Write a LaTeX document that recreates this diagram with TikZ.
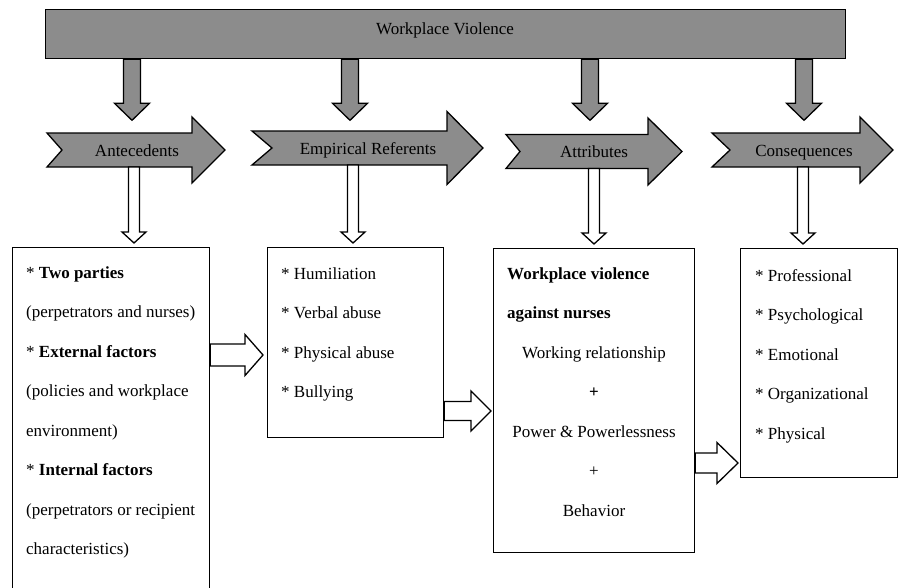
\documentclass[tikz,border=0pt]{standalone}
\usepackage{fontspec}
\setmainfont{Liberation Serif}
\usetikzlibrary{calc}
\definecolor{arrowgray}{gray}{0.55}
\def\lh{39.5}
\tikzstyle{gray block}=[draw=black, fill=arrowgray, line width=1.3pt]
\tikzstyle{hollow}=[draw=black, fill=white, line width=1.3pt]
\tikzstyle{panel}=[draw, line width=1.3pt, rectangle, anchor=north west,
                   inner sep=0pt]
\tikzstyle{entry}=[anchor=base west, inner sep=0pt]
\tikzstyle{centry}=[anchor=base, inner sep=0pt]

% block arrow pointing down: style, from, to, shaft half, head half, head length
\newcommand\vblock[6]{%
  \path[#1] let \p1=(#2), \p2=(#3) in
    (\x1-#4,\y1) -- (\x1-#4,\y2+#6) -- (\x1-#5,\y2+#6) -- (\x1,\y2)
    -- (\x1+#5,\y2+#6) -- (\x1+#4,\y2+#6) -- (\x1+#4,\y1) -- cycle;}
% block arrow pointing right
\newcommand\hblock[6]{%
  \path[#1] let \p1=(#2), \p2=(#3) in
    (\x1,\y1+#4) -- (\x2-#6,\y1+#4) -- (\x2-#6,\y1+#5) -- (\x2,\y1)
    -- (\x2-#6,\y1-#5) -- (\x2-#6,\y1-#4) -- (\x1,\y1-#4) -- cycle;}

\begin{document}
\begin{tikzpicture}[x=1pt, y=-1pt, font=\fontsize{17}{20}\selectfont]
  \useasboundingbox (0,0) rectangle (902,587);

  % Top bar
  \node[panel, fill=arrowgray, minimum width=800pt, minimum height=49pt]
    (bar) at (45,9) {};
  \node[centry] (barlabel) at (445,34) {Workplace Violence};

  % Chevrons
  \foreach \nm/\xl/\xn/\xb/\xt/\yc/\hw/\xlab/\xtop/\xbot/\txt in
     {ante/47/62/192/225/150/33/137/132/134/Antecedents,
      emp/252/272/447/483/148/36.5/368/350/353/Empirical Referents,
      attr/506/520/648/682/151.5/33.5/594/590/594/Attributes,
      cons/712/730/860/893/150/33/804/804/803/Consequences}{
    \path[gray block] (\xl,\yc-17) -- (\xb,\yc-17) -- (\xb,\yc-\hw)
      -- (\xt,\yc) -- (\xb,\yc+\hw) -- (\xb,\yc+17) -- (\xl,\yc+17)
      -- (\xn,\yc) -- cycle;
    \node[centry] (\nm) at (\xlab,\yc+6) {\txt};
    \coordinate (\nm-top) at (\xtop,\yc-17);
    \coordinate (\nm-bot) at (\xbot,\yc+17);
  }

  % Boxes
  \node[panel, minimum width=197pt, minimum height=360pt] (b1) at (12,247) {};
  \node[panel, minimum width=176pt, minimum height=190pt] (b2) at (267,247) {};
  \node[panel, minimum width=201pt, minimum height=304pt] (b3) at (493,248) {};
  \node[panel, minimum width=157pt, minimum height=229pt] (b4) at (740,248) {};

  % Arrows from the bar and from the chevrons
  \foreach \nm/\bx in {ante/b1, emp/b2, attr/b3, cons/b4}{
    \vblock{gray block}{bar.south -| \nm-top}{[yshift=-61pt]bar.south -| \nm-top}
      {8.5pt}{17.5pt}{17pt}
    \vblock{hollow}{\nm-bot}{[yshift=4pt]\bx.north -| \nm-bot}{5.5pt}{12pt}{11pt}
  }

  % Arrows between boxes
  \hblock{hollow}{b1.east |- 0,355}{[xshift=-4pt]b2.west |- 0,355}{11pt}{20.5pt}{18pt}
  \hblock{hollow}{b2.east |- 0,411}{[xshift=-2pt]b3.west |- 0,411}{9.5pt}{20pt}{20pt}
  \hblock{hollow}{b3.east |- 0,463}{[xshift=-2pt]b4.west |- 0,463}{10pt}{20.5pt}{21pt}

  % Box texts
  \foreach \txt [count=\i] in {{* \textbf{Two parties}}, {(perpetrators and nurses)},
      {* \textbf{External factors}}, {(policies and workplace}, {environment)},
      {* \textbf{Internal factors}}, {(perpetrators or recipient}, {characteristics)}}
    \node[entry] (b1-\i) at (26,{278+\lh*(\i-1)}) {\txt};
  \foreach \txt [count=\i] in {{* Humiliation}, {* Verbal abuse},
      {* Physical abuse}, {* Bullying}}
    \node[entry] (b2-\i) at (281,{279+\lh*(\i-1)}) {\txt};
  \node[entry] (b3-1) at (507,279) {\textbf{Workplace violence}};
  \node[entry] (b3-2) at (507,{279+\lh}) {\textbf{against nurses}};
  \foreach \txt [count=\i from 3] in {{Working relationship}, {\textbf{+}},
      {Power \& Powerlessness}, {+}, {Behavior}}
    \node[centry] (b3-\i) at (594,{279+\lh*(\i-1)}) {\txt};
  \foreach \txt [count=\i] in {{* Professional}, {* Psychological},
      {* Emotional}, {* Organizational}, {* Physical}}
    \node[entry] (b4-\i) at (755,{281+\lh*(\i-1)}) {\txt};
\end{tikzpicture}
\end{document}
